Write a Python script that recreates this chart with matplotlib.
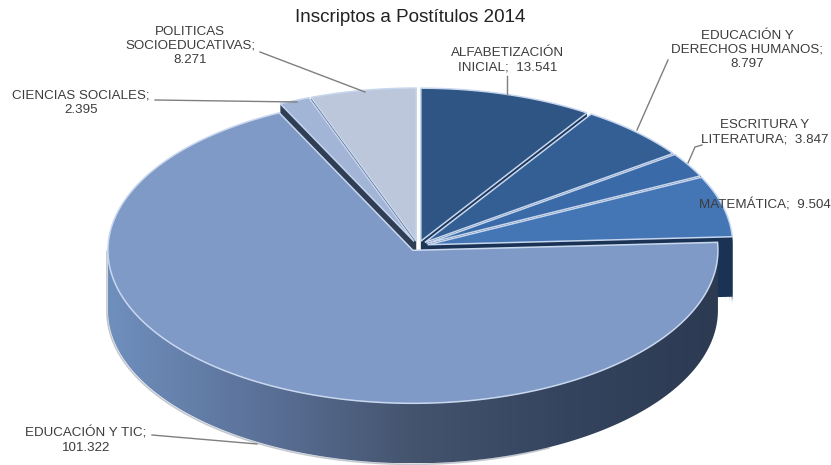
#!/usr/bin/env python3
"""Tilted pie of Postitulo enrolment, 2014, with the large slice pulled out."""

import numpy as np
import matplotlib
matplotlib.use("Agg")
import matplotlib.pyplot as plt
from matplotlib.colors import LinearSegmentedColormap
from matplotlib.patches import Polygon

TITLE = "Inscriptos a Postítulos 2014"
categories = [
    "ALFABETIZACIÓN INICIAL",
    "EDUCACIÓN Y DERECHOS HUMANOS",
    "ESCRITURA Y LITERATURA",
    "MATEMÁTICA",
    "EDUCACIÓN Y TIC",
    "CIENCIAS SOCIALES",
    "POLITICAS SOCIOEDUCATIVAS",
]
values = [13541, 8797, 3847, 9504, 101322, 2395, 8271]
top_colors = ["#2f5585", "#335f95", "#3a6ba8", "#4476b5", "#7f9ac6", "#a3b5d7", "#bcc7dc"]
wall_colors = ["#1d3557", "#1d3557", "#1d3557", "#1a3254", "#2f3d55", "#2f3d55", "#2f3d55"]
label_texts = [
    "ALFABETIZACIÓN\nINICIAL;  13.541",
    "EDUCACIÓN Y\nDERECHOS HUMANOS;\n8.797",
    "ESCRITURA Y\nLITERATURA;  3.847",
    "MATEMÁTICA;  9.504",
    "EDUCACIÓN Y TIC;\n101.322",
    "CIENCIAS SOCIALES;\n2.395",
    "POLITICAS\nSOCIOEDUCATIVAS;\n8.271",
]
label_xy = [(508, 60), (747, 50), (765, 132), (765, 205), (86, 440), (81, 103), (190, 46)]
leaders = [
    [(507, 76), (507, 95)],
    [(668, 60), (637, 130)],
    [(702, 145), (695, 147), (688, 163)],
    None,
    [(152, 435), (257, 444)],
    [(155, 100), (297, 102)],
    [(260, 52), (365, 92)],
]

# pie geometry, in pixels
BASE = np.array([418.0, 246.0])
RX, RY = 305.0, 153.0
DEPTH = 60.0
EXPLODE = 10.0
BIG = 4

plt.rcParams["font.family"] = ["Liberation Sans", "DejaVu Sans"]


def rim(center, angles):
    """Points on the ellipse, angles in degrees clockwise from the top."""
    a = np.radians(angles)
    return np.column_stack([center[0] + RX * np.sin(a), center[1] - RY * np.cos(a)])


def main() -> int:
    fig = plt.figure(figsize=(8.31, 4.65), dpi=100)
    ax = fig.add_axes([0, 0, 1, 1])
    ax.set_xlim(0, 831)
    ax.set_ylim(465, 0)
    ax.axis("off")

    edges = np.concatenate([[0], np.cumsum(values)]) / sum(values) * 360
    centers = []
    for start, end in zip(edges[:-1], edges[1:]):
        mid = np.radians((start + end) / 2)
        centers.append(BASE + EXPLODE * np.array([np.sin(mid), -np.cos(mid) * RY / RX]))

    small = [i for i in range(len(values)) if i != BIG]

    # cut faces and visible outer walls of the small slices
    for i in small:
        start, end = edges[i], edges[i + 1]
        for ang in (start, end):
            p = rim(centers[i], [ang])[0]
            c = centers[i]
            face = [c, p, p + (0, DEPTH), c + (0, DEPTH)]
            ax.add_patch(Polygon(face, fc=wall_colors[i], ec="none", zorder=1))
        if start < 90:
            angs = np.linspace(max(start, 60), 90, 30)
            top = rim(centers[i], angs)
            wall = np.vstack([top, (top + (0, DEPTH))[::-1]])
            ax.add_patch(Polygon(wall, fc=wall_colors[i], ec="none", zorder=1))

    for i in small:
        angs = np.linspace(edges[i], edges[i + 1], 80)
        pts = np.vstack([[centers[i]], rim(centers[i], angs)])
        ax.add_patch(Polygon(pts, fc=top_colors[i], ec="#c6d6ee", lw=1.1, zorder=2))

    # large slice: shaded wall, then top face
    c = centers[BIG]
    angs = np.linspace(90, 270, 200)
    top = rim(c, angs)
    low = top + (0, DEPTH)
    wall = Polygon(np.vstack([top, low[::-1]]), fc="none", ec="none", zorder=3)
    ax.add_patch(wall)
    cmap = LinearSegmentedColormap.from_list(
        "wall", ["#6f8fbd", "#5b7198", "#44546e", "#35445e", "#2c3a52"]
    )
    grad = ax.imshow(
        np.linspace(0, 1, 256)[None, :], cmap=cmap, aspect="auto", zorder=3,
        extent=(c[0] - RX, c[0] + RX, low[:, 1].max(), top[:, 1].min()),
    )
    grad.set_clip_path(wall)
    ax.set_xlim(0, 831)
    ax.set_ylim(465, 0)
    # soft pale edge round the lower left of the wall
    edge = np.vstack([low[70:], top[-1]])
    ax.plot(edge[:, 0] - 1, edge[:, 1] + 1, color="#c4c9d0", lw=1.2, zorder=2.5)

    angs = np.linspace(edges[BIG], edges[BIG + 1], 300)
    pts = np.vstack([[c], rim(c, angs)])
    ax.add_patch(Polygon(pts, fc=top_colors[BIG], ec="#c9d8ef", lw=1.1, zorder=4))

    # labels and leader lines
    for text, (x, y), line in zip(label_texts, label_xy, leaders):
        ax.text(x, y, text, ha="center", va="center", fontsize=9.6, color="#3c3c3c",
                linespacing=1.27, zorder=6)
        if line:
            xs, ys = zip(*line)
            ax.plot(xs, ys, color="#7f7f7f", lw=1.0, zorder=5)

    ax.text(410, 18, TITLE, ha="center", va="center", fontsize=13.6, color="#222222")

    fig.savefig("out.png", dpi=100)
    return 0


if __name__ == "__main__":
    raise SystemExit(main())
